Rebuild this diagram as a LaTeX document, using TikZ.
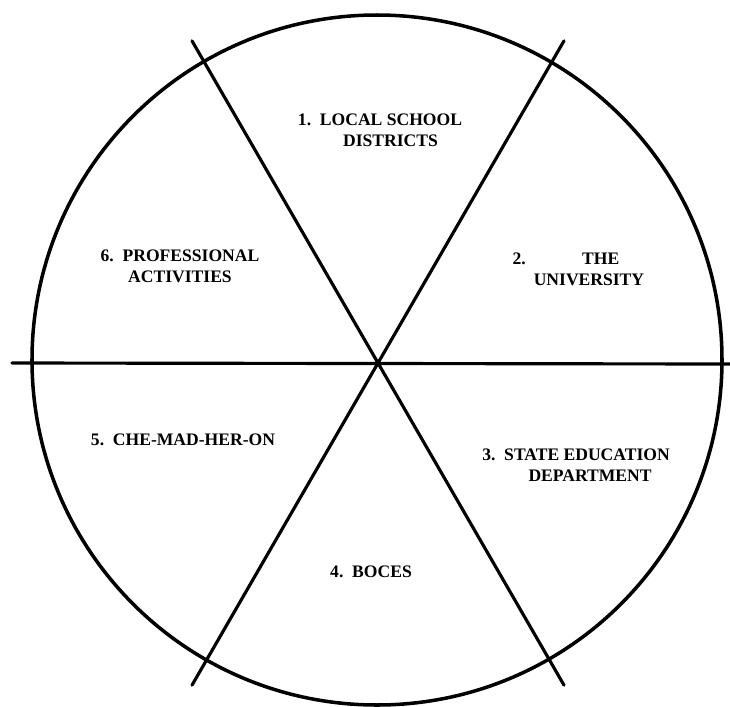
\documentclass[tikz,border=0pt]{standalone}
\usepackage{fontspec}
\setmainfont{Liberation Serif}
\usetikzlibrary{calc}

\begin{document}
\begin{tikzpicture}[line cap=round,line join=round,
  sector/.style={font=\bfseries\fontsize{5}{6}\selectfont,inner sep=0pt,align=center},
  spoke/.style={line width=0.9pt}]
  \useasboundingbox (0,0) rectangle (7.30,7.06);
  \coordinate (O) at (3.78,3.43);\coordinate (M) at (3.77,3.46);
  \coordinate (W) at (0.12,3.43);\coordinate (E) at (7.30,3.42);
  \coordinate (NW) at ($(O)+(120:3.72)$);\coordinate (SE) at ($(O)+(-60:3.72)$);
  \coordinate (NE) at ($(O)+(60:3.72)$);\coordinate (SW) at ($(O)+(240:3.72)$);
  \draw[line width=1pt] (M) circle (3.45);
  \draw[spoke] (W)--(E) (NW)--(SE) (NE)--(SW);
  \node[sector] (lsd) at (3.80,5.76) {1.\enskip LOCAL SCHOOL\\\hspace*{6pt}DISTRICTS};
  \node[sector,anchor=west,align=left] (univ) at (5.12,4.37) {2.\hspace{16pt}THE\\\hspace*{6pt}UNIVERSITY};
  \node[sector] (sed) at (5.76,2.41) {3.\enskip STATE EDUCATION\\\hspace*{8pt}DEPARTMENT};
  \node[sector] (boces) at (3.71,1.34) {4.\enskip BOCES};
  \node[sector] (che) at (1.83,2.66) {5.\enskip CHE-MAD-HER-ON};
  \node[sector] (prof) at (1.80,4.40) {6.\enskip PROFESSIONAL\\ACTIVITIES};
\end{tikzpicture}
\end{document}
